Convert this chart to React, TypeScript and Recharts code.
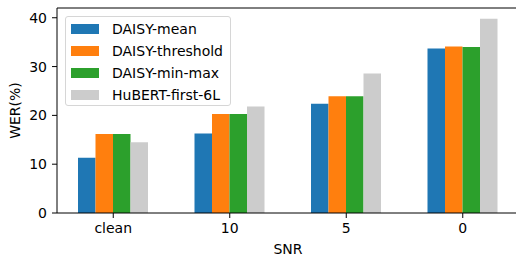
import { BarChart, Bar, XAxis, YAxis, ReferenceLine } from "recharts";

const categories = ["clean", "10", "5", "0"];
const daisyMean = [11.3, 16.3, 22.4, 33.7];
const daisyThreshold = [16.2, 20.3, 23.9, 34.1];
const daisyMinMax = [16.2, 20.3, 23.9, 34.0];
const hubertFirst6L = [14.5, 21.8, 28.6, 39.8];
const yTicks = [0, 10, 20, 30, 40];

const series = [
  { key: "mean", name: "DAISY-mean", color: "#1f77b4", values: daisyMean },
  { key: "threshold", name: "DAISY-threshold", color: "#ff7f0e", values: daisyThreshold },
  { key: "minmax", name: "DAISY-min-max", color: "#2ca02c", values: daisyMinMax },
  { key: "hubert", name: "HuBERT-first-6L", color: "#cccccc", values: hubertFirst6L },
];

const data = categories.map((snr, i) => {
  const row: Record<string, string | number> = { snr };
  series.forEach((s) => (row[s.key] = s.values[i]));
  return row;
});

const font = "DejaVu Sans, sans-serif";
const tickStyle = { fill: "#000", fontSize: 14, fontFamily: font };

export default function App() {
  return (
    <div
      style={{
        position: "absolute",
        left: 0,
        top: 0,
        width: 516,
        height: 256,
        overflow: "hidden",
        background: "#fff",
        fontFamily: font,
      }}
    >
      <BarChart
        width={530}
        height={256}
        data={data}
        margin={{ top: 8, right: 11, bottom: 0, left: 0 }}
        barGap={0}
        barSize={17.5}
      >
        <XAxis
          dataKey="snr"
          height={43}
          padding={{ left: -2, right: -2 }}
          tick={tickStyle}
          tickSize={5}
          tickMargin={5}
          stroke="#000"
          label={{ value: "SNR", position: "insideBottom", offset: 2, fill: "#000", fontSize: 14, fontFamily: font }}
        />
        <YAxis
          width={57}
          domain={[0, 42]}
          ticks={yTicks}
          tick={tickStyle}
          tickSize={5}
          tickMargin={5}
          stroke="#000"
          label={{
            value: "WER(%)",
            angle: -90,
            position: "insideLeft",
            offset: 15,
            fill: "#000",
            fontSize: 14,
            fontFamily: font,
            style: { textAnchor: "middle" },
          }}
        />
        <ReferenceLine y={42} stroke="#000" />
        {series.map((s) => (
          <Bar key={s.key} dataKey={s.key} name={s.name} fill={s.color} isAnimationActive={false} />
        ))}
      </BarChart>

      {/* legend box, upper left like matplotlib */}
      <div
        style={{
          position: "absolute",
          left: 65,
          top: 16,
          width: 164,
          height: 88,
          border: "1px solid #d6d6d6",
          borderRadius: 3,
          background: "rgba(255,255,255,0.8)",
        }}
      >
        {series.map((s, i) => (
          <div
            key={s.key}
            style={{
              position: "absolute",
              left: 5,
              top: 4 + i * 22,
              height: 16,
              display: "flex",
              alignItems: "center",
            }}
          >
            <div style={{ width: 28, height: 10, background: s.color }} />
            <span style={{ marginLeft: 13, fontSize: 14, lineHeight: "16px", color: "#000", whiteSpace: "nowrap" }}>
              {s.name}
            </span>
          </div>
        ))}
      </div>
    </div>
  );
}
